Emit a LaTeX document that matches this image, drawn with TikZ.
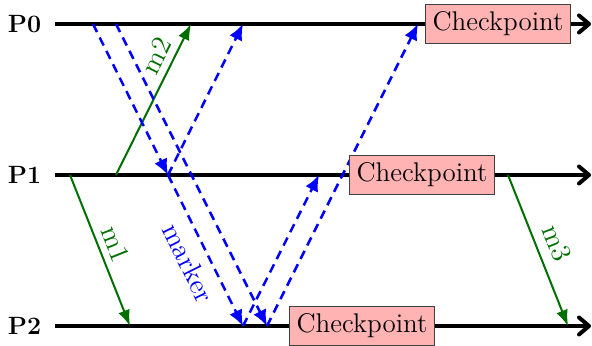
\documentclass[tikz,border=0pt]{standalone}
\usetikzlibrary{arrows.meta}
\definecolor{cpfill}{RGB}{255,179,179}
\definecolor{msggreen}{RGB}{0,110,0}
\begin{document}
\begin{tikzpicture}[x=0.5pt,y=-0.5pt,
  timeline/.style={line width=2pt, -{Straight Barb[length=5pt,width=8.5pt,round]}},
  proc/.style={font=\fontsize{12.5}{14}\selectfont\bfseries, inner sep=0pt},
  chk/.style={draw=black!75, line width=0.5pt, fill=cpfill, minimum width=72.5pt,
    minimum height=19.5pt, inner sep=0pt, font=\fontsize{13.5}{15}\selectfont},
  msg/.style={msggreen, line width=1pt, -{Latex[length=8pt,width=6pt]}},
  markerline/.style={blue, line width=1.25pt, dash pattern=on 4.5pt off 3pt,
    -{Latex[length=8pt,width=7pt]}},
  lbl/.style={font=\fontsize{14}{16}\selectfont, sloped}]
\useasboundingbox (0,0) rectangle (592,346);

% process names
\node[proc] (P0) at (24.5,24) {P0};
\node[proc] (P1) at (24.5,175) {P1};
\node[proc] (P2) at (24.5,326) {P2};

% timelines
\coordinate (l0s) at (55,24);  \coordinate (l0e) at (591,24);
\coordinate (l1s) at (55,175); \coordinate (l1e) at (591,175);
\coordinate (l2s) at (55,326); \coordinate (l2e) at (591,326);
\draw[timeline] (l0s) -- (l0e);
\draw[timeline] (l1s) -- (l1e);
\draw[timeline] (l2s) -- (l2e);

% events on P0
\coordinate (a0) at (93,24);
\coordinate (b0) at (116,24);
\coordinate (m2e) at (191,24);
\coordinate (d0) at (243,24);
\coordinate (f0) at (418,24);
% events on P1
\coordinate (m1s) at (70,175);
\coordinate (m2s) at (116,175);
\coordinate (r1) at (168,175);
\coordinate (e1) at (319,175);
\coordinate (m3s) at (508,175);
% events on P2
\coordinate (m1e) at (130,326);
\coordinate (r2a) at (243,326);
\coordinate (r2b) at (267,326);
\coordinate (m3e) at (568,326);

% application messages
\draw[msg] (m1s) -- node[lbl, above, pos=0.5] {m1} (m1e);
\draw[msg] (m2s) -- node[lbl, above, pos=0.74] {m2} (m2e);
\draw[msg] (m3s) -- node[lbl, above=1.5pt, pos=0.5] {m3} (m3e);

% marker messages
\draw[markerline] (a0) -- (r1);
\draw[markerline] (b0) -- (r2b);
\draw[markerline] (r1) -- node[lbl, blue, below=1.5pt, pos=0.52] {marker} (r2a);
\draw[markerline] (r1) -- (d0);
\draw[markerline] (r2a) -- (e1);
\draw[markerline] (r2b) -- (f0);

% recorded checkpoints
\node[chk] (cp0) at (498,24) {Checkpoint};
\node[chk] (cp1) at (422,175) {Checkpoint};
\node[chk] (cp2) at (362,326) {Checkpoint};
\end{tikzpicture}
\end{document}
